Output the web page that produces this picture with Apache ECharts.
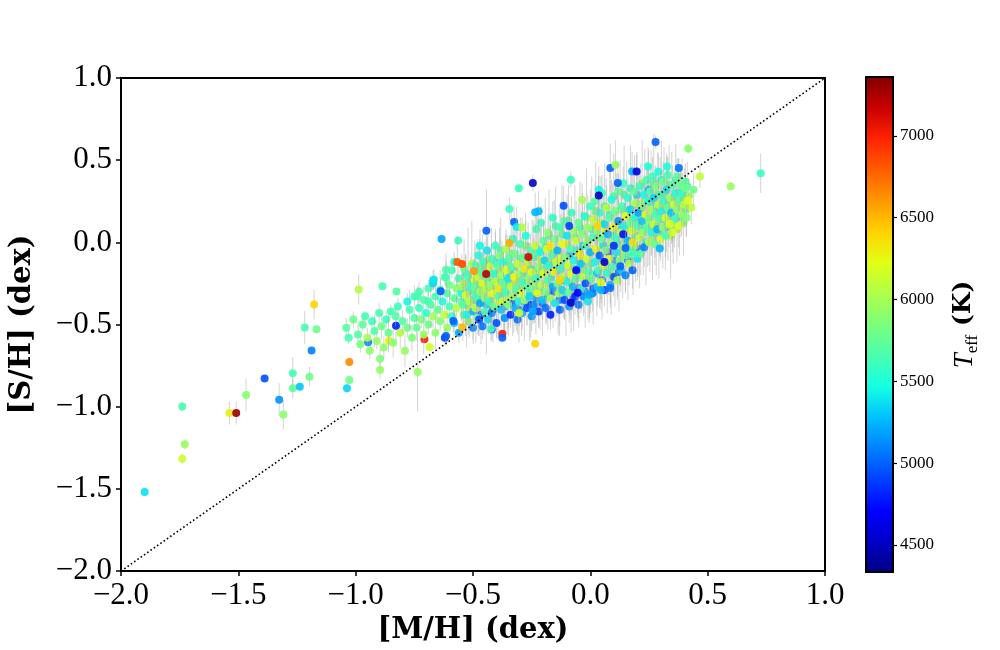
<!DOCTYPE html>
<html>
<head>
<meta charset="utf-8">
<title>[S/H] vs [M/H]</title>
<script src="https://cdn.jsdelivr.net/npm/echarts@6.0.0/dist/echarts.min.js"></script>
<style>
  html, body { margin: 0; padding: 0; background: #fff; }
  #chart { width: 1000px; height: 650px; }
</style>
</head>
<body>
<div id="chart"></div>
<script>
// every star: [ [M/H], [S/H], Teff (K), sigma [S/H] ]

// metal poor tail, left of -1.1
var metalPoorStars = [
  [-1.899,-1.518,5380,0.02],[-1.739,-0.998,5650,0.03],[-1.728,-1.228,5950,0.03],[-1.739,-1.317,6150,0.03],
  [-1.538,-1.038,6300,0.07],[-1.509,-1.038,7300,0.07],[-1.467,-0.929,5900,0.1],[-1.388,-0.828,4950,0.02],
  [-1.326,-0.957,5150,0.1],[-1.308,-1.048,5900,0.09],[-1.268,-0.797,5650,0.1],[-1.268,-0.888,5750,0.06],
  [-1.238,-0.878,5300,0.02],[-1.197,-0.817,5800,0.06],[-1.188,-0.658,5100,0.02],[-1.217,-0.518,5650,0.1],
  [-1.167,-0.528,5800,0.02],[-1.177,-0.378,6400,0.09]
];

// -1.05 .. -0.7
var wingStars = [
  [-0.987,-0.287,6050,0.09],[-0.886,-0.267,5650,0.02],[-0.826,-0.299,5700,0.02],[-1.027,-0.728,6650,0.02],
  [-1.027,-0.838,5800,0.02],[-1.037,-0.888,5350,0.03],[-0.896,-0.708,5850,0.06],[-0.896,-0.777,5950,0.05],
  [-0.736,-0.789,5950,0.24],[-0.707,-0.589,7000,0.02],[-0.685,-0.637,6150,0.02],[-0.828,-0.508,4800,0.1],
  [-0.947,-0.607,5100,0.02],[-0.858,-0.599,6300,0.03],
  [-1.04,-0.52,5700,0.06],[-1.03,-0.58,5650,0.04],[-1.01,-0.47,5800,0.05],[-0.99,-0.56,5700,0.08],
  [-0.98,-0.62,5850,0.05],[-0.97,-0.50,5750,0.04],[-0.96,-0.45,5650,0.03],[-0.95,-0.58,6000,0.06],
  [-0.94,-0.66,5900,0.05],[-0.93,-0.48,5600,0.04],[-0.92,-0.54,5700,0.1],[-0.91,-0.60,5950,0.05],
  [-0.90,-0.43,5650,0.06],[-0.89,-0.51,5800,0.08],[-0.88,-0.64,5900,0.07],[-0.87,-0.47,5600,0.05],
  [-0.86,-0.55,5750,0.12],[-0.85,-0.42,5650,0.04],[-0.84,-0.61,5900,0.09],[-0.83,-0.45,5700,0.06],
  [-0.82,-0.39,5600,0.05],[-0.81,-0.55,6050,0.1],[-0.80,-0.48,5700,0.07],[-0.79,-0.66,5950,0.1],
  [-0.78,-0.36,5450,0.05],[-0.78,-0.52,5800,0.06],[-0.77,-0.41,5650,0.12],[-0.76,-0.58,5850,0.08],
  [-0.75,-0.46,5700,0.05],[-0.75,-0.33,5600,0.07]
];

// -0.75 .. -0.5
var bandLow = [
  [-0.74,-0.52,5750,0.08],[-0.73,-0.40,5600,0.1],[-0.73,-0.30,5650,0.06],[-0.72,-0.47,5850,0.05],
  [-0.71,-0.56,5950,0.12],[-0.71,-0.35,5700,0.08],[-0.70,-0.43,5550,0.1],[-0.69,-0.28,5650,0.05],
  [-0.69,-0.50,5800,0.06],[-0.68,-0.38,5700,0.14],[-0.67,-0.45,6000,0.07],[-0.67,-0.23,5400,0.06],
  [-0.66,-0.33,5650,0.09],[-0.66,-0.55,5900,0.1],[-0.65,-0.41,5750,0.08],[-0.64,-0.29,5600,0.12],
  [-0.64,-0.48,5850,0.06],[-0.63,-0.36,5500,0.1],[-0.62,-0.44,6100,0.07],[-0.62,-0.21,5650,0.05],
  [-0.61,-0.31,5700,0.11],[-0.61,-0.52,5950,0.09],[-0.60,-0.39,5650,0.08],[-0.60,-0.26,5800,0.1],
  [-0.59,-0.45,5600,0.06],[-0.59,-0.17,5650,0.05],[-0.58,-0.34,5750,0.13],[-0.58,-0.49,5300,0.08],
  [-0.57,-0.28,5900,0.09],[-0.57,-0.40,6050,0.07],[-0.56,-0.22,5600,0.1],[-0.56,-0.55,5200,0.06],
  [-0.55,-0.36,5700,0.12],[-0.55,-0.31,5450,0.08],[-0.54,-0.44,5800,0.09],[-0.54,-0.25,6150,0.1],
  [-0.53,-0.38,5650,0.07],[-0.53,-0.19,5550,0.11],[-0.52,-0.48,5900,0.08],[-0.52,-0.30,5750,0.1],
  [-0.51,-0.41,6200,0.09],[-0.51,-0.23,5650,0.12],[-0.50,-0.35,5600,0.08],[-0.50,-0.52,5100,0.07],
  [-0.62,-0.58,4900,0.05],[-0.67,-0.25,5350,0.04],[-0.58,-0.12,5500,0.06]
];

// -0.5 .. -0.25
var bandMid = [
  [-0.495,-0.27,5750,0.1],[-0.49,-0.14,5650,0.08],[-0.49,-0.40,6050,0.12],[-0.485,-0.33,5600,0.15],
  [-0.48,-0.21,6100,0.09],[-0.48,-0.46,5800,0.1],[-0.475,-0.08,5500,0.07],[-0.47,-0.30,5950,0.13],
  [-0.47,-0.37,5200,0.11],[-0.465,-0.18,5700,0.1],[-0.46,-0.25,6250,0.12],[-0.46,-0.51,5050,0.08],
  [-0.455,-0.12,5600,0.09],[-0.45,-0.34,5850,0.14],[-0.45,-0.42,5650,0.1],[-0.445,-0.28,6000,0.16],
  [-0.44,-0.05,5400,0.08],[-0.44,-0.22,5750,0.11],[-0.435,-0.47,5350,0.09],[-0.43,-0.15,6150,0.1],
  [-0.43,-0.36,5600,0.13],[-0.425,-0.26,5900,0.12],[-0.42,-0.10,5650,0.09],[-0.42,-0.43,5100,0.1],
  [-0.415,-0.31,6200,0.14],[-0.41,-0.19,5550,0.1],[-0.41,-0.39,5800,0.11],[-0.405,-0.02,5600,0.08],
  [-0.40,-0.24,6050,0.13],[-0.40,-0.49,4950,0.09],[-0.395,-0.14,5700,0.1],[-0.39,-0.33,5650,0.15],
  [-0.39,-0.28,6300,0.12],[-0.385,-0.08,5850,0.1],[-0.38,-0.41,5300,0.11],[-0.38,-0.20,5950,0.14],
  [-0.375,-0.36,6100,0.12],[-0.37,-0.12,5500,0.09],[-0.37,-0.25,5750,0.16],[-0.365,-0.46,5150,0.1],
  [-0.36,-0.04,6000,0.09],[-0.36,-0.30,5600,0.13],[-0.355,-0.17,6200,0.11],[-0.35,-0.38,5850,0.14],
  [-0.35,-0.22,5400,0.1],[-0.345,-0.10,5700,0.12],[-0.34,-0.44,4850,0.08],[-0.34,-0.27,6050,0.15],
  [-0.335,-0.15,5650,0.1],[-0.33,-0.33,5950,0.12],[-0.33,0.02,5550,0.09],[-0.325,-0.21,6250,0.13],
  [-0.32,-0.40,5250,0.11],[-0.32,-0.07,5800,0.1],[-0.315,-0.28,5700,0.16],[-0.31,-0.47,5050,0.09],
  [-0.31,-0.13,6100,0.12],[-0.305,-0.36,5450,0.14],[-0.30,-0.19,5900,0.11],[-0.30,-0.01,5650,0.1],
  [-0.295,-0.31,6150,0.13],[-0.29,-0.24,5600,0.15],[-0.29,-0.43,5200,0.1],[-0.285,-0.09,5750,0.12],
  [-0.28,-0.35,5950,0.11],[-0.28,-0.16,6300,0.13],[-0.275,0.04,5500,0.09],[-0.27,-0.27,5700,0.16],
  [-0.27,-0.40,4950,0.1],[-0.265,-0.12,6050,0.12],[-0.26,-0.21,5850,0.14],[-0.26,-0.33,5350,0.12],
  [-0.255,-0.05,5650,0.1],[-0.25,-0.45,5150,0.09],[-0.25,-0.18,6200,0.13],[-0.47,-0.02,5450,0.1],
  [-0.42,-0.53,5000,0.07]
];

// -0.25 .. 0
var bandSolar = [
  [-0.245,-0.28,5800,0.14],[-0.24,-0.09,5700,0.12],[-0.24,-0.38,5100,0.11],[-0.235,-0.02,6100,0.13],
  [-0.23,-0.22,5550,0.15],[-0.23,0.08,5650,0.1],[-0.225,-0.31,6250,0.12],[-0.22,-0.15,5900,0.14],
  [-0.22,-0.42,4900,0.1],[-0.215,-0.06,5450,0.13],[-0.21,-0.26,6050,0.16],[-0.21,0.12,5600,0.1],
  [-0.205,-0.35,5300,0.12],[-0.20,-0.19,6150,0.15],[-0.20,0.01,5750,0.12],[-0.195,-0.11,5350,0.14],
  [-0.19,-0.30,5850,0.13],[-0.19,-0.40,5050,0.1],[-0.185,-0.04,6200,0.12],[-0.18,-0.23,5650,0.17],
  [-0.18,0.06,5900,0.11],[-0.175,-0.14,5500,0.13],[-0.17,-0.34,6000,0.14],[-0.17,-0.44,4800,0.09],
  [-0.165,-0.08,5700,0.15],[-0.16,-0.27,5200,0.12],[-0.16,0.15,5550,0.1],[-0.155,-0.18,6300,0.14],
  [-0.15,0.02,5800,0.13],[-0.15,-0.37,5400,0.11],[-0.145,-0.12,6100,0.16],[-0.14,-0.25,5750,0.14],
  [-0.14,-0.05,5250,0.12],[-0.135,-0.31,5950,0.13],[-0.13,0.09,5650,0.12],[-0.13,-0.41,5000,0.1],
  [-0.125,-0.16,5600,0.15],[-0.12,-0.01,6250,0.13],[-0.12,-0.29,5350,0.14],[-0.115,-0.21,6050,0.16],
  [-0.11,0.13,5700,0.11],[-0.11,-0.35,4950,0.12],[-0.105,-0.09,5850,0.14],[-0.10,-0.24,5500,0.15],
  [-0.10,0.04,5400,0.12],[-0.095,-0.14,6150,0.13],[-0.09,-0.39,5150,0.1],[-0.09,-0.30,5800,0.14],
  [-0.085,-0.04,5650,0.15],[-0.08,0.18,5600,0.1],[-0.08,-0.19,6200,0.14],[-0.075,-0.27,5250,0.13],
  [-0.07,0.07,5950,0.12],[-0.07,-0.11,5450,0.16],[-0.065,-0.33,4850,0.11],[-0.06,-0.22,5700,0.15],
  [-0.06,0.01,6100,0.13],[-0.055,-0.16,5550,0.14],[-0.05,-0.38,5050,0.1],[-0.05,0.12,5750,0.12],
  [-0.045,-0.07,6300,0.14],[-0.04,-0.28,5600,0.15],[-0.04,-0.13,5300,0.13],[-0.035,0.05,5850,0.12],
  [-0.03,-0.21,6050,0.16],[-0.03,-0.33,5150,0.12],[-0.025,0.16,5500,0.11],[-0.02,-0.02,5700,0.14],
  [-0.02,-0.25,4950,0.12],[-0.015,-0.10,6150,0.15],[-0.01,0.09,5950,0.13],[-0.01,-0.36,5400,0.11],
  [-0.005,-0.18,5650,0.16],[0.0,-0.06,5250,0.13],[0.0,0.22,5600,0.1],[-0.22,0.19,5250,0.12],
  [-0.17,-0.02,6350,0.12],[-0.09,0.10,4900,0.12],[-0.13,-0.23,6400,0.1],[-0.06,-0.17,4700,0.1]
];

// 0 .. 0.25
var bandRich = [
  [0.005,-0.22,5800,0.14],[0.01,0.03,5650,0.15],[0.01,-0.31,5100,0.11],[0.015,0.14,6100,0.13],
  [0.02,-0.12,5450,0.16],[0.02,0.25,5700,0.12],[0.025,-0.04,6250,0.14],[0.03,-0.27,5300,0.12],
  [0.03,0.07,5900,0.15],[0.035,-0.17,5600,0.14],[0.04,0.18,5550,0.13],[0.04,-0.08,5000,0.12],
  [0.045,-0.24,6000,0.13],[0.05,0.02,5750,0.16],[0.05,0.30,5650,0.11],[0.055,-0.14,6200,0.15],
  [0.06,0.11,5350,0.13],[0.06,-0.29,4900,0.1],[0.065,-0.05,5850,0.15],[0.07,0.21,6050,0.14],
  [0.07,-0.19,5550,0.13],[0.075,0.05,5250,0.14],[0.08,-0.10,6150,0.15],[0.08,0.15,5700,0.13],
  [0.085,-0.26,5200,0.11],[0.09,-0.01,5950,0.16],[0.09,0.26,5500,0.12],[0.095,-0.15,5650,0.14],
  [0.10,0.09,6250,0.13],[0.10,-0.21,4950,0.12],[0.105,0.19,5800,0.15],[0.11,-0.06,5400,0.14],
  [0.11,0.03,5600,0.16],[0.115,-0.23,6000,0.12],[0.12,0.13,5150,0.13],[0.12,0.31,5750,0.11],
  [0.125,-0.11,5850,0.15],[0.13,0.06,6100,0.14],[0.13,-0.17,5300,0.13],[0.135,0.22,5650,0.14],
  [0.14,-0.03,5950,0.16],[0.14,0.36,5600,0.1],[0.145,0.10,5450,0.14],[0.15,-0.20,5100,0.11],
  [0.15,0.16,6200,0.13],[0.155,-0.08,5700,0.15],[0.16,0.27,5550,0.12],[0.16,0.01,5250,0.14],
  [0.165,-0.13,6050,0.13],[0.17,0.12,5800,0.16],[0.17,0.20,5350,0.13],[0.175,-0.05,5650,0.14],
  [0.18,0.07,6150,0.15],[0.18,-0.17,5000,0.11],[0.185,0.31,5750,0.12],[0.19,0.15,5500,0.14],
  [0.19,-0.02,5900,0.15],[0.195,0.24,6000,0.13],[0.20,-0.10,5400,0.13],[0.20,0.10,5650,0.16],
  [0.205,0.18,5200,0.14],[0.21,0.03,6100,0.14],[0.21,0.34,5600,0.11],[0.215,-0.07,5750,0.13],
  [0.22,0.22,5850,0.15],[0.22,0.13,5300,0.14],[0.225,0.06,5950,0.16],[0.23,0.29,5450,0.12],
  [0.23,-0.03,5100,0.12],[0.235,0.17,6200,0.13],[0.24,0.09,5700,0.15],[0.24,0.38,5650,0.11],
  [0.245,0.25,5550,0.13],[0.25,0.00,6050,0.14],[0.25,0.14,5800,0.16],[0.06,-0.12,4600,0.1],
  [0.14,0.05,4750,0.1],[0.03,0.10,6400,0.12],[0.18,0.00,6350,0.12],[0.10,-0.02,4850,0.12]
];

// 0.25 .. 0.45
var bandTop = [
  [0.255,0.31,5700,0.13],[0.26,0.06,5500,0.14],[0.26,0.20,5950,0.15],[0.265,0.40,5600,0.12],
  [0.27,0.11,6100,0.14],[0.27,0.27,5350,0.13],[0.275,-0.01,5750,0.13],[0.28,0.17,5650,0.16],
  [0.28,0.34,5850,0.12],[0.285,0.08,5250,0.14],[0.29,0.23,6000,0.15],[0.29,0.43,5500,0.11],
  [0.295,0.14,5700,0.14],[0.30,0.02,6200,0.13],[0.30,0.29,5600,0.14],[0.305,0.19,5450,0.15],
  [0.31,0.37,5800,0.12],[0.31,0.09,5900,0.14],[0.315,0.25,5550,0.15],[0.32,0.15,6150,0.13],
  [0.32,0.04,5650,0.13],[0.325,0.32,5400,0.12],[0.33,0.21,5750,0.15],[0.33,0.41,5650,0.11],
  [0.335,0.11,6050,0.14],[0.34,0.27,5950,0.13],[0.345,0.18,5300,0.14],[0.35,0.35,5700,0.12],
  [0.35,0.07,5850,0.13],[0.355,0.23,6100,0.14],[0.36,0.14,5600,0.13],[0.365,0.30,5500,0.12],
  [0.37,0.40,5750,0.11],[0.37,0.20,5900,0.14],[0.375,0.10,6200,0.13],[0.38,0.26,5650,0.13],
  [0.385,0.35,5800,0.12],[0.39,0.17,5950,0.13],[0.395,0.30,5550,0.12],[0.40,0.23,6050,0.12],
  [0.405,0.37,5700,0.11],[0.41,0.15,5850,0.12],[0.42,0.28,5950,0.11],[0.43,0.21,6100,0.1],
  [0.44,0.32,5800,0.1]
];

// extra stars filling the dense part of the band
var bandFillA = [
  [-0.548,-0.27,5950,0.2],[-0.543,-0.38,5700,0.22],[-0.538,-0.16,5800,0.18],[-0.532,-0.32,6150,0.25],
  [-0.527,-0.44,5450,0.2],[-0.521,-0.21,5650,0.3],[-0.516,-0.36,6050,0.22],[-0.51,-0.27,5550,0.18],
  [-0.505,-0.13,6000,0.26],[-0.499,-0.42,5250,0.2],[-0.493,-0.23,6200,0.24],[-0.488,-0.31,5750,0.3],
  [-0.482,-0.18,5900,0.2],[-0.476,-0.35,6100,0.22],[-0.471,-0.26,5650,0.28],[-0.466,-0.44,4950,0.18],
  [-0.46,-0.15,5850,0.2],[-0.454,-0.30,6250,0.26],[-0.449,-0.21,5600,0.22],[-0.443,-0.38,5350,0.3],
  [-0.437,-0.11,6050,0.2],[-0.432,-0.27,5900,0.24],[-0.426,-0.33,6150,0.22],[-0.421,-0.19,5700,0.28],
  [-0.415,-0.41,5050,0.2],[-0.41,-0.24,6000,0.25],[-0.404,-0.12,5500,0.2],[-0.398,-0.29,5800,0.3],
  [-0.393,-0.36,6200,0.22],[-0.387,-0.17,6100,0.26],[-0.382,-0.05,5650,0.2],[-0.376,-0.23,5600,0.24],
  [-0.37,-0.31,5950,0.28],[-0.365,-0.39,5200,0.2],[-0.359,-0.14,6250,0.22],[-0.354,-0.26,5750,0.3],
  [-0.348,-0.33,6050,0.24],[-0.342,-0.19,5400,0.22],[-0.337,-0.07,5850,0.26],[-0.331,-0.37,4900,0.2],
  [-0.326,-0.25,6150,0.3],[-0.32,-0.15,5950,0.22],[-0.315,-0.30,5650,0.24],[-0.309,-0.21,6300,0.28],
  [-0.304,-0.41,5100,0.2],[-0.298,-0.10,5700,0.25],[-0.293,-0.27,6000,0.3],[-0.287,-0.19,5550,0.22],
  [-0.281,-0.36,5300,0.24],[-0.276,-0.02,5900,0.2],[-0.27,-0.23,6200,0.28],[-0.265,-0.14,5750,0.26],
  [-0.259,-0.30,5600,0.3],[-0.254,-0.38,4850,0.2],[-0.248,-0.08,6100,0.22],[-0.243,-0.17,5450,0.3],
  [-0.237,-0.25,6050,0.24],[-0.232,-0.34,5150,0.22],[-0.226,-0.04,5800,0.26],[-0.221,-0.20,5950,0.3],
  [-0.215,-0.29,5700,0.24],[-0.21,-0.11,6250,0.22],[-0.204,-0.37,5000,0.2]
];

var bandFillB = [
  [-0.198,-0.16,5850,0.26],[-0.192,-0.03,5600,0.3],[-0.187,-0.25,6100,0.24],[-0.181,-0.33,5250,0.2],
  [-0.176,0.04,5700,0.28],[-0.17,-0.12,6250,0.3],[-0.165,-0.21,5500,0.26],[-0.159,-0.30,4950,0.22],
  [-0.154,-0.06,5950,0.32],[-0.148,0.10,5650,0.24],[-0.143,-0.17,5350,0.28],[-0.137,-0.26,6000,0.3],
  [-0.132,-0.35,5100,0.22],[-0.126,-0.09,6150,0.26],[-0.121,0.05,5800,0.3],[-0.115,-0.14,5600,0.32],
  [-0.11,-0.23,4900,0.24],[-0.104,-0.31,5450,0.26],[-0.099,-0.01,6200,0.3],[-0.093,0.13,5750,0.22],
  [-0.088,-0.08,5250,0.28],[-0.082,-0.25,6050,0.3],[-0.077,-0.16,5700,0.26],[-0.071,-0.34,5000,0.2],
  [-0.066,0.03,5900,0.32],[-0.06,-0.05,5550,0.3],[-0.055,-0.20,6100,0.26],[-0.049,-0.28,4800,0.24],
  [-0.044,0.09,5650,0.28],[-0.038,-0.11,6300,0.3],[-0.033,-0.02,5350,0.32],[-0.027,-0.17,5850,0.26],
  [-0.022,-0.30,5150,0.22],[-0.016,0.15,5950,0.3],[-0.011,0.01,6050,0.28],[-0.005,-0.23,5450,0.26],
  [0.001,-0.13,5750,0.3],[0.006,0.08,5600,0.32],[0.012,-0.28,4950,0.22],[0.017,-0.04,6200,0.28],
  [0.023,0.19,5800,0.3],[0.028,-0.19,5300,0.26],[0.034,0.03,5950,0.32],[0.039,-0.10,5650,0.3],
  [0.045,0.12,6100,0.28],[0.05,-0.23,5050,0.24],[0.056,-0.02,5400,0.3],[0.061,0.22,5700,0.26],
  [0.067,0.07,6250,0.32],[0.072,-0.15,5850,0.28],[0.078,-0.06,4850,0.26],[0.083,0.17,5550,0.3],
  [0.089,-0.20,5950,0.24],[0.094,0.04,5750,0.32],[0.1,0.28,5650,0.26],[0.105,-0.11,5200,0.28],
  [0.111,0.12,6150,0.3],[0.116,-0.01,5600,0.32],[0.122,-0.18,4950,0.24],[0.127,0.20,5900,0.3],
  [0.133,0.08,5350,0.28],[0.138,-0.08,6050,0.26],[0.144,0.29,5700,0.3],[0.149,0.02,5800,0.32]
];

var bandFillC = [
  [0.155,0.19,5650,0.3],[0.16,-0.11,5150,0.24],[0.166,0.07,6100,0.28],[0.171,0.33,5550,0.26],
  [0.177,0.14,5850,0.32],[0.182,-0.06,5400,0.26],[0.188,0.23,6000,0.3],[0.193,0.04,5750,0.28],
  [0.199,0.29,5350,0.26],[0.204,0.11,6200,0.32],[0.21,-0.04,5050,0.24],[0.215,0.18,5700,0.3],
  [0.221,0.36,5900,0.26],[0.226,0.08,5600,0.28],[0.232,0.25,6050,0.32],[0.237,0.00,5500,0.26],
  [0.243,0.15,5800,0.3],[0.248,0.32,5250,0.24],[0.254,0.10,6150,0.28],[0.259,0.24,5650,0.32],
  [0.265,0.03,5950,0.26],[0.27,0.36,5700,0.3],[0.276,0.19,5450,0.28],[0.281,0.12,6000,0.32],
  [0.287,0.29,5850,0.26],[0.292,0.06,5600,0.28],[0.298,0.22,6250,0.3],[0.303,0.38,5500,0.24],
  [0.309,0.14,5750,0.3],[0.314,0.30,5950,0.28],[0.32,0.09,5300,0.26],[0.325,0.24,6100,0.3],
  [0.331,0.17,5650,0.28],[0.336,0.35,5800,0.24],[0.342,0.04,6050,0.26],[0.347,0.27,5550,0.28],
  [0.353,0.13,5900,0.26],[0.358,0.21,5700,0.24],[0.364,0.38,5600,0.22],[0.369,0.08,6150,0.2],
  [0.375,0.29,5850,0.22],[0.38,0.16,5450,0.24],[0.386,0.23,6000,0.2],[0.391,0.33,5750,0.18],
  [0.397,0.12,5950,0.2],[0.402,0.27,6100,0.18],[0.408,0.20,5800,0.16],[0.413,0.34,5650,0.15]
];

// stars off the upper edge of the band
var upperStars = [
  [-0.634,0.021,5200,0.02],[-0.563,0.012,5600,0.02],[-0.443,0.071,5000,0.25],[-0.345,0.203,5600,0.07],
  [-0.305,0.330,5600,0.02],[-0.245,0.361,4550,0.05],[-0.235,0.183,5250,0.12],[-0.325,0.124,5000,0.1],
  [-0.314,0.094,5400,0.12],[-0.29,0.09,6050,0.06],[-0.083,0.381,5600,0.05],[-0.114,0.223,4950,0.12],
  [-0.035,0.259,6000,0.1],[0.036,0.320,5450,0.14],[0.036,0.285,4500,0.12],[0.085,0.452,5000,0.15],
  [0.107,0.472,5950,0.15],[0.117,0.361,5000,0.12],[0.178,0.431,5250,0.12],[0.197,0.431,4600,0.1],
  [0.246,0.462,5500,0.12],[0.278,0.611,5000,0.04],[0.327,0.462,5500,0.06],[0.377,0.452,5050,0.06],
  [0.417,0.571,5900,0.03],[0.467,0.401,6100,0.07],[0.598,0.340,5950,0.02],[0.726,0.421,5600,0.12],
  [0.406,0.330,5800,0.07],[0.417,0.254,6200,0.05]
];

// stars off the lower edge of the band
var lowerStars = [
  [0.296,-0.038,5250,0.05],[0.349,0.061,6200,0.06],[0.339,0.112,6150,0.07],[0.185,-0.069,5650,0.1],
  [0.150,-0.034,5000,0.1],[0.128,-0.145,5000,0.12],[0.046,-0.247,6250,0.1],[0.085,-0.277,5050,0.12],
  [0.045,-0.29,5250,0.12],[-0.003,-0.318,5200,0.14],[-0.054,-0.307,4700,0.12],[-0.083,-0.368,4550,0.1],
  [-0.245,-0.418,5200,0.08],[-0.303,-0.429,6150,0.08],[-0.375,-0.556,7000,0.02],[-0.375,-0.580,5000,0.02],
  [-0.235,-0.617,6400,0.02],[-0.424,-0.526,5650,0.07],[-0.474,-0.469,4950,0.1],[-0.546,-0.516,6500,0.02],
  [-0.584,-0.479,5000,0.07],[-0.615,-0.570,5000,0.05],[-0.567,-0.119,6800,0.15],[-0.546,-0.131,6850,0.02],
  [-0.496,-0.176,6600,0.08],[-0.444,-0.192,7200,0.1],[-0.264,-0.089,7150,0.04],[-0.345,-0.004,6550,0.05],
  [-0.615,-0.166,5650,0.1],[-0.615,-0.216,5650,0.1],[-0.667,-0.226,5400,0.06],[-0.638,-0.297,5000,0.08],
  [-0.736,-0.327,5650,0.06],[-0.691,-0.358,5650,0.05]
];

var oneToOne = [[-2, -2], [1, 1]];

var teffMin = 4335, teffMax = 7360;
var teffTicks = [4500, 5000, 5500, 6000, 6500, 7000];

// matplotlib jet, 17 samples
var jetColors = ['#000080','#0000c8','#0000ff','#0040ff','#0080ff','#00c0ff','#15ffe2','#48ffaf',
  '#7bff7b','#afff48','#e2ff15','#ffd200','#ff9700','#ff5c00','#ff2100','#c80000','#800000'];

// drawn in this order, each star with its own error bar, so later stars cover earlier bars
var allStars = [].concat(metalPoorStars, wingStars, bandLow, bandFillA, bandMid, bandFillB, bandSolar,
  bandFillC, bandRich, bandTop, upperStars, lowerStars);

function tickFmt(v) {
  return (v < 0 ? '\u2212' : '') + Math.abs(v).toFixed(1);
}

var serif = '"Liberation Serif", "DejaVu Serif", serif';

var chart = echarts.init(document.getElementById('chart'));

var option = {
  backgroundColor: '#fff',
  animation: false,
  grid: [
    { left: 120, top: 78, width: 705, height: 494, show: true, borderColor: '#000', borderWidth: 2, backgroundColor: 'transparent' },
    { left: 866, top: 77, width: 27, height: 495 }
  ],
  xAxis: [
    {
      gridIndex: 0, type: 'value', min: -2, max: 1, interval: 0.5,
      name: '[M/H] (dex)', nameLocation: 'middle', nameGap: 42,
      nameTextStyle: { fontFamily: '"DejaVu Serif", serif', fontWeight: 'bold', fontSize: 29, color: '#000' },
      axisLine: { show: true, onZero: false, lineStyle: { color: '#000', width: 2 } },
      axisTick: { show: true, inside: false, length: 5, lineStyle: { color: '#000', width: 1.5 } },
      axisLabel: { formatter: tickFmt, fontFamily: serif, fontSize: 31, color: '#000', margin: 9 },
      splitLine: { show: false }
    },
    { gridIndex: 1, type: 'value', min: -0.5, max: 0.5, show: false }
  ],
  yAxis: [
    {
      gridIndex: 0, type: 'value', min: -2, max: 1, interval: 0.5,
      name: '[S/H] (dex)', nameLocation: 'middle', nameGap: 84,
      nameTextStyle: { fontFamily: '"DejaVu Serif", serif', fontWeight: 'bold', fontSize: 29, color: '#000' },
      axisLine: { show: true, onZero: false, lineStyle: { color: '#000', width: 2 } },
      axisTick: { show: true, inside: false, length: 5, lineStyle: { color: '#000', width: 1.5 } },
      axisLabel: { formatter: tickFmt, fontFamily: serif, fontSize: 31, color: '#000', margin: 9 },
      splitLine: { show: false }
    },
    {
      gridIndex: 1, type: 'value', min: teffMin, max: teffMax, position: 'right',
      name: '{t|T}{s|eff}{k| (K)}', nameLocation: 'middle', nameGap: 58, nameRotate: 90,
      nameTextStyle: {
        color: '#000',
        rich: {
          t: { fontFamily: serif, fontStyle: 'italic', fontSize: 27, lineHeight: 30, verticalAlign: 'top', color: '#000' },
          s: { fontFamily: serif, fontSize: 17, lineHeight: 12, verticalAlign: 'bottom', color: '#000' },
          k: { fontFamily: '"DejaVu Serif", serif', fontWeight: 'bold', fontSize: 25, lineHeight: 30, verticalAlign: 'top', color: '#000' }
        }
      },
      axisLine: { show: false, onZero: false },
      axisTick: { show: true, inside: false, length: 4, customValues: teffTicks, lineStyle: { color: '#000', width: 1.2 } },
      axisLabel: {
        customValues: teffTicks, fontFamily: serif, fontSize: 17, color: '#000', margin: 7,
        formatter: function (v) { return String(v); }
      },
      splitLine: { show: false }
    }
  ],
  visualMap: [{
    type: 'continuous', show: false, seriesIndex: 0, dimension: 2,
    min: teffMin, max: teffMax, inRange: { color: jetColors }
  }],
  series: [
    {
      // each star: grey error bar then the coloured marker
      type: 'custom', xAxisIndex: 0, yAxisIndex: 0, z: 3, clip: true, silent: true,
      data: allStars,
      encode: { x: 0, y: 1 },
      renderItem: function (params, api) {
        var x = api.value(0), y = api.value(1), e = api.value(3);
        var c = api.coord([x, y]);
        var p1 = api.coord([x, y - e]);
        var p2 = api.coord([x, y + e]);
        return {
          type: 'group',
          children: [
            {
              type: 'line',
              shape: { x1: p1[0], y1: p1[1], x2: p2[0], y2: p2[1] },
              style: { stroke: 'rgba(170,170,170,0.5)', lineWidth: 1 }
            },
            {
              type: 'circle',
              shape: { cx: c[0], cy: c[1], r: 4 },
              style: { fill: api.visual('color'), opacity: 0.9 }
            }
          ]
        };
      }
    },
    {
      type: 'line', xAxisIndex: 0, yAxisIndex: 0, z: 5,
      data: oneToOne, symbol: 'none', silent: true,
      lineStyle: { color: '#000', width: 1.6, type: [1.6, 2.4] }
    },
    {
      // colour bar
      type: 'custom', xAxisIndex: 1, yAxisIndex: 1, z: 2,
      data: [[0, teffMax]],
      renderItem: function (params, api) {
        var a = api.coord([-0.5, teffMax]);
        var b = api.coord([0.5, teffMin]);
        var stops = jetColors.map(function (c, i) { return { offset: i / (jetColors.length - 1), color: c }; });
        return {
          type: 'rect',
          shape: { x: a[0], y: a[1], width: b[0] - a[0], height: b[1] - a[1] },
          style: { fill: new echarts.graphic.LinearGradient(0, 1, 0, 0, stops), stroke: '#000', lineWidth: 2 }
        };
      }
    }
  ]
};

chart.setOption(option);
</script>
</body>
</html>
